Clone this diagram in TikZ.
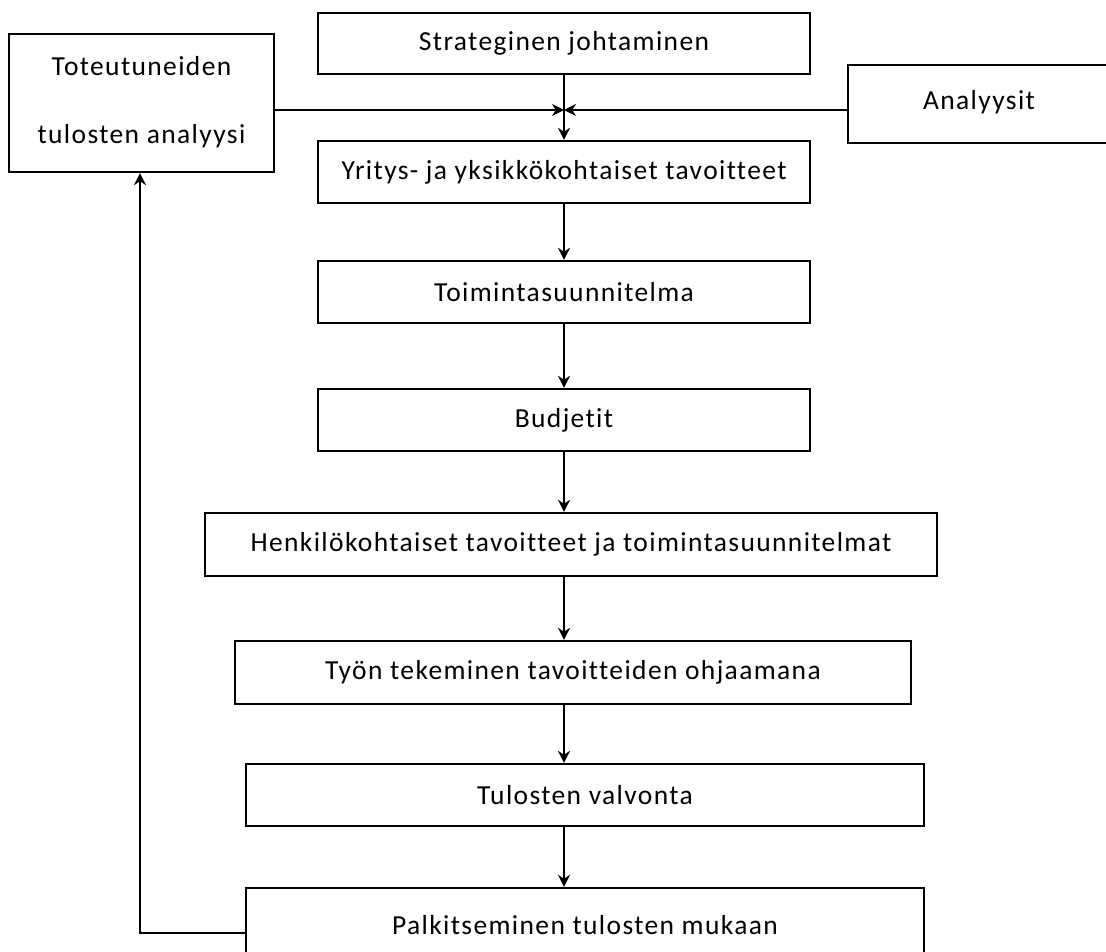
\documentclass[tikz,border=0pt]{standalone}
\usepackage{fontspec}
\setmainfont{Carlito}[LetterSpace=5,Ligatures=CommonOff]
\usetikzlibrary{arrows.meta}
\begin{document}
\begin{tikzpicture}[x=1pt,y=-1pt,
  box/.style={draw=black, line width=2.2pt, rectangle, inner sep=0pt, align=center,
    font=\fontsize{27.5}{33}\selectfont},
  conn/.style={line width=2pt, -{Stealth[length=12pt,width=12pt]}}]
\useasboundingbox (0,0) rectangle (1106,951);
\node[box, minimum width=492pt, minimum height=61pt] (strat) at (564,43.5) {Strateginen johtaminen};
\node[box, minimum width=492pt, minimum height=62pt] (yri) at (564,172) {Yritys- ja yksikkökohtaiset tavoitteet};
\node[box, minimum width=492pt, minimum height=62pt] (toim) at (564,292) {Toimintasuunnitelma};
\node[box, minimum width=492pt, minimum height=62pt] (bud) at (564,420) {Budjetit};
\node[box, minimum width=732pt, minimum height=63pt] (hen) at (571,544.5) {Henkilökohtaiset tavoitteet ja toimintasuunnitelmat};
\node[box, minimum width=676pt, minimum height=63pt] (tyo) at (573,672.5) {Työn tekeminen tavoitteiden ohjaamana};
\node[box, minimum width=678pt, minimum height=62pt] (valv) at (585,795) {Tulosten valvonta};
\node[box, minimum width=678pt, minimum height=80pt] (palk) at (585,928) {\raisebox{6pt}{Palkitseminen tulosten mukaan}};
\node[box, minimum width=265pt, minimum height=138pt] (tot) at (141.5,103) {\raisebox{4pt}{\begin{tabular}{c}Toteutuneiden\\[35pt]tulosten analyysi\end{tabular}}};
\node[box, minimum width=262pt, minimum height=78pt] (ana) at (979,104) {\raisebox{9pt}{Analyysit}};
\coordinate (m) at (564,110);
\draw[conn] (tot.east |- m) -- (m);
\draw[conn] (ana.west |- m) -- (m);
\draw[conn] (strat.south) -- (yri.north);
\draw[conn] (yri.south) -- (toim.north);
\draw[conn] (toim.south) -- (bud.north);
\draw[conn] (bud.south) -- (bud.south |- hen.north);
\draw[conn] (bud.south |- hen.south) -- (bud.south |- tyo.north);
\draw[conn] (bud.south |- tyo.south) -- (bud.south |- valv.north);
\draw[conn] (bud.south |- valv.south) -- (bud.south |- palk.north);
\coordinate (c1) at (140,933);
\draw[conn] (palk.west |- c1) -- (c1) -- (c1 |- tot.south);
\end{tikzpicture}
\end{document}
